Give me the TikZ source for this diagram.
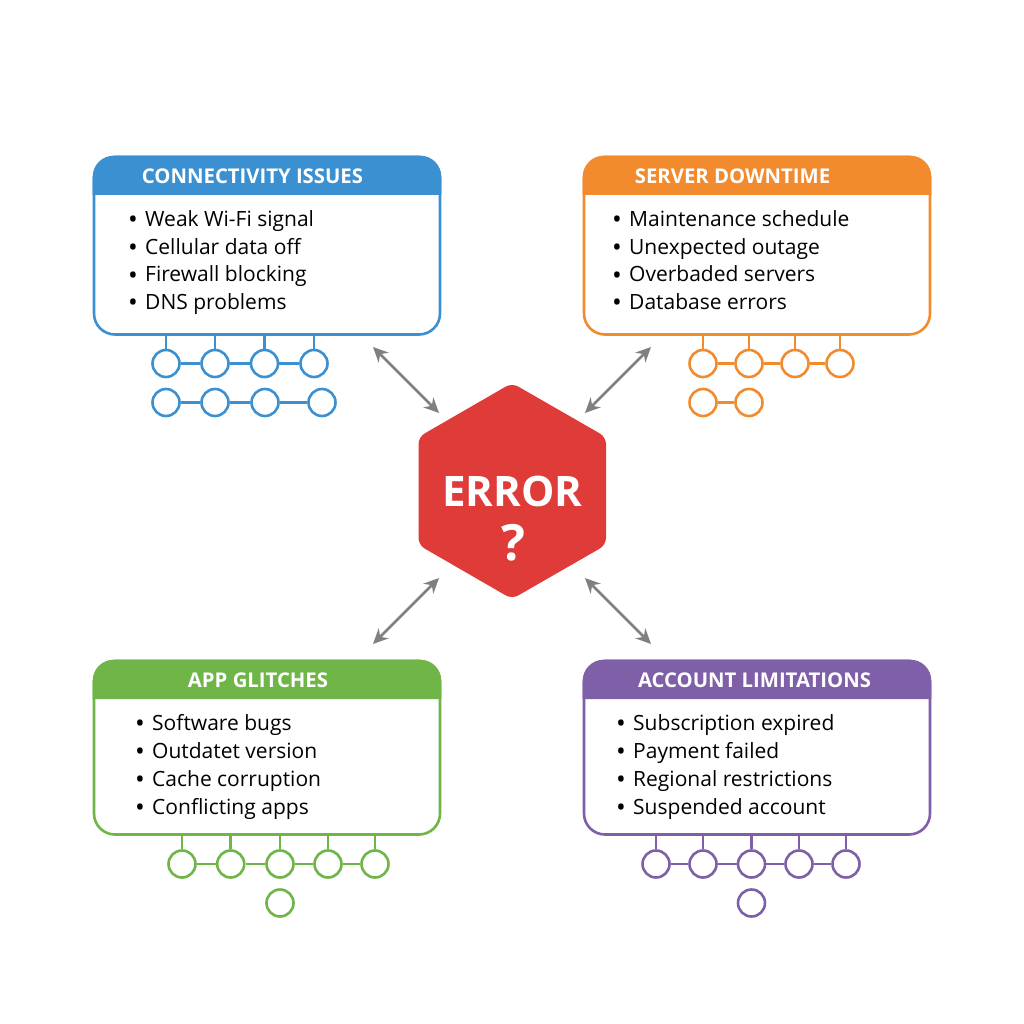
\documentclass[tikz,border=0pt]{standalone}
\usepackage{fontspec}
\setmainfont{Open Sans}
\usetikzlibrary{arrows.meta}
\definecolor{cblue}{HTML}{3A90D0}
\definecolor{corange}{HTML}{F28B2E}
\definecolor{cgreen}{HTML}{6FB547}
\definecolor{cpurple}{HTML}{7F5FA8}
\definecolor{cred}{HTML}{DF3B38}
\definecolor{carrow}{HTML}{808080}
\tikzset{
  x=1pt,y=-1pt,
  panelbox/.style={draw=#1,line width=2.6pt,rounded corners=21pt,fill=white,minimum width=346pt,inner sep=0pt,outer sep=0pt},
  headtext/.style={text=white,font=\fontsize{20.3}{24}\selectfont\bfseries,inner sep=0pt},
  itemtext/.style={anchor=base west,text=black,font=\fontsize{21}{24}\selectfont,inner sep=0pt},
  bullettext/.style={anchor=base,text=black,font=\fontsize{26}{28}\selectfont,inner sep=0pt},
  dot/.style={circle,draw=#1,line width=2.6pt,minimum size=27pt,inner sep=0pt,fill=white},
  link/.style={draw=#1,line width=2.6pt},
  twoway/.style={draw=carrow,line width=2.8pt,{Stealth[length=15pt,width=14pt]}-{Stealth[length=15pt,width=14pt]}},
}
% name, y-top, y-header-bottom, title, y-bottom, colour, title centre x, x-left
\newcommand{\panelshape}[8]{%
  \node[panelbox=#6,minimum height=#5pt-#2pt-1.5pt,anchor=north west] (#1) at (#8,#2+1) {};
  \fill[#6] (#8-1.3,#3) [rounded corners=21pt] -- (#8-1.3,#2-0.3) -- (#8+347.3,#2-0.3) [sharp corners] -- (#8+347.3,#3) -- cycle;
  \node[headtext] (#1title) at (#7,#3-19) {#4};
}
% name, bullet x, text x, baseline y, text
\newcommand{\itemrow}[5]{%
  \node[bullettext] (#1b) at (#2,#4+2.5) {•};
  \node[itemtext] (#1t) at (#3,#4) {#5};
}
% first row dot with stub: name, colour, x, y, panel
\newcommand{\stubdot}[5]{%
  \node[dot=#2] (#1) at (#3,#4) {};
  \draw[link=#2] (#1.north) -- (#1.north |- #5.south);
}
\begin{document}
\begin{tikzpicture}
\useasboundingbox (0,0) rectangle (1024,1024);
\fill[white] (0,0) rectangle (1024,1024);

% centre hexagon
\fill[cred,rounded corners=7pt] (512,383) -- (606,437) -- (606,545) -- (512,599) -- (418.5,545) -- (418.5,437) -- cycle;
\node[inner sep=0pt,text=white,font=\fontsize{42}{46}\selectfont\bfseries] (err) at (512.5,491) {ERROR};
\node[inner sep=0pt,text=white,font=\fontsize{50}{54}\selectfont\bfseries] (qm) at (513,543) {?};
\coordinate (hexTL) at (439,413);
\coordinate (hexTR) at (585,413);
\coordinate (hexBL) at (439,578);
\coordinate (hexBR) at (585,578);
\coordinate (outTL) at (373,347);
\coordinate (outTR) at (651,347);
\coordinate (outBL) at (373,644);
\coordinate (outBR) at (651,644);
\draw[twoway] (outTL) -- (hexTL);
\draw[twoway] (outTR) -- (hexTR);
\draw[twoway] (outBL) -- (hexBL);
\draw[twoway] (outBR) -- (hexBR);

% blue panel
\panelshape{pa}{156}{195}{CONNECTIVITY ISSUES}{335}{cblue}{252.5}{94}
\itemrow{pai}{133}{145}{226}{Weak Wi-Fi signal}
\itemrow{paii}{133}{145}{254}{Cellular data off}
\itemrow{paiii}{133}{145}{281.5}{Firewall blocking}
\itemrow{paiv}{133}{145}{309}{DNS problems}
\stubdot{aa}{cblue}{166}{363.5}{pa}
\stubdot{ab}{cblue}{215}{363.5}{pa}
\stubdot{ac}{cblue}{264.5}{363.5}{pa}
\stubdot{ad}{cblue}{314}{363.5}{pa}
\node[dot=cblue] (ae) at (166,402.5) {};
\node[dot=cblue] (af) at (215,402.5) {};
\node[dot=cblue] (ag) at (265,402.5) {};
\node[dot=cblue] (ah) at (322,402.5) {};
\draw[link=cblue] (aa) -- (ab); \draw[link=cblue] (ab) -- (ac); \draw[link=cblue] (ac) -- (ad);
\draw[link=cblue] (ae) -- (af); \draw[link=cblue] (af) -- (ag); \draw[link=cblue] (ag) -- (ah);

% orange panel
\panelshape{pb}{156}{195}{SERVER DOWNTIME}{335}{corange}{732.5}{584}
\itemrow{pbi}{617}{629}{226}{Maintenance schedule}
\itemrow{pbii}{617}{629}{254}{Unexpected outage}
\itemrow{pbiii}{617}{629}{281.5}{Overbaded servers}
\itemrow{pbiv}{617}{629}{309}{Database errors}
\stubdot{ba}{corange}{703}{363.5}{pb}
\stubdot{bb}{corange}{749}{363.5}{pb}
\stubdot{bc}{corange}{795}{363.5}{pb}
\stubdot{bd}{corange}{840}{363.5}{pb}
\node[dot=corange] (be) at (703,402.5) {};
\node[dot=corange] (bf) at (749,402.5) {};
\draw[link=corange] (ba) -- (bb); \draw[link=corange] (bb) -- (bc); \draw[link=corange] (bc) -- (bd);
\draw[link=corange] (be) -- (bf);

% green panel
\panelshape{pc}{660}{699}{APP GLITCHES}{835}{cgreen}{258}{94}
\itemrow{pci}{140}{152}{730}{Software bugs}
\itemrow{pcii}{140}{152}{758}{Outdatet version}
\itemrow{pciii}{140}{152}{786}{Cache corruption}
\itemrow{pciv}{140}{152}{814}{Conflicting apps}
\stubdot{ca}{cgreen}{182}{864}{pc}
\stubdot{cb}{cgreen}{230.7}{864}{pc}
\stubdot{cc}{cgreen}{280}{864}{pc}
\stubdot{cd}{cgreen}{328}{864}{pc}
\stubdot{ce}{cgreen}{375}{864}{pc}
\node[dot=cgreen] (cf) at (280,903) {};
\draw[link=cgreen] (ca) -- (cb); \draw[link=cgreen] (cb) -- (cc); \draw[link=cgreen] (cc) -- (cd); \draw[link=cgreen] (cd) -- (ce);

% purple panel
\panelshape{pd}{660}{699}{ACCOUNT LIMITATIONS}{835}{cpurple}{754.5}{584}
\itemrow{pdi}{621}{633}{730}{Subscription expired}
\itemrow{pdii}{621}{633}{758}{Payment failed}
\itemrow{pdiii}{621}{633}{786}{Regional restrictions}
\itemrow{pdiv}{621}{633}{814}{Suspended account}
\stubdot{da}{cpurple}{656}{864}{pd}
\stubdot{db}{cpurple}{703}{864}{pd}
\stubdot{dc}{cpurple}{751.5}{864}{pd}
\stubdot{dd}{cpurple}{799}{864}{pd}
\stubdot{de}{cpurple}{846}{864}{pd}
\node[dot=cpurple] (df) at (751.5,903) {};
\draw[link=cpurple] (da) -- (db); \draw[link=cpurple] (db) -- (dc); \draw[link=cpurple] (dc) -- (dd); \draw[link=cpurple] (dd) -- (de);
\end{tikzpicture}
\end{document}
